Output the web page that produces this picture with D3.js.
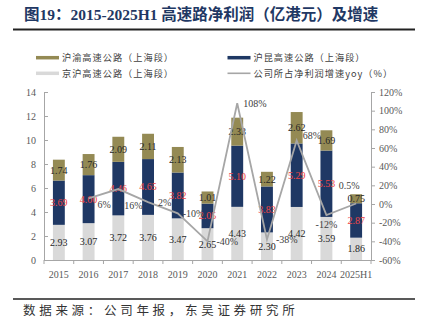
<!DOCTYPE html>
<html>
<head>
<meta charset="utf-8">
<script src="https://cdn.jsdelivr.net/npm/d3@7"></script>
<style>
  body { margin: 0; background: #fff; }
  svg { display: block; }
  .num { font-family: "Liberation Serif", "Times New Roman", serif; }
  .cjk { font-family: "Noto Sans CJK SC", sans-serif; }
</style>
</head>
<body>
<svg id="chart" width="421" height="334"></svg>
<script>
// Highway net profit by segment (HKD 100m) and company share yoy growth

const years = ['2015', '2016', '2017', '2018', '2019', '2020', '2021', '2022', '2023', '2024', '2025H1'];
const jinghu = [2.93, 3.07, 3.72, 3.76, 3.47, 2.65, 4.43, 2.30, 4.42, 3.59, 1.86];
const hukun = [3.69, 4.00, 4.46, 4.65, 3.82, 2.05, 5.10, 3.83, 5.29, 5.53, 2.87];
const huyu = [1.74, 1.76, 2.09, 2.11, 2.13, 1.01, 2.33, 1.22, 2.62, 1.69, 0.75];
const yoy = [null, 6, 16, 2, -10, -40, 108, -38, 68, -12, 0.5];
const yoyLabels = ['', '6%', '16%', '2%', '-10%', '-40%', '108%', '-38%', '68%', '-12%', '0.5%'];

const leftTicks = [0, 2, 4, 6, 8, 10, 12, 14];
const rightTicks = [-60, -40, -20, 0, 20, 40, 60, 80, 100, 120];

const seriesNames = ['沪渝高速公路（上海段）', '沪昆高速公路（上海段）', '京沪高速公路（上海段）', '公司所占净利润增速yoy（%）'];

const COLORS = { huyu: '#948a54', hukun: '#1f3864', jinghu: '#d9d9d9', line: '#a6a6a6' };
const PLOT = { left: 44, right: 371, top: 92, bottom: 260 };

const svg = d3.select('#chart');

// Title and rules
svg.append('text')
  .attr('x', 24).attr('y', 20)
  .attr('font-size', 15.5).attr('font-weight', 'bold')
  .attr('fill', '#1f3864')
  .attr('font-family', '"Liberation Serif", "Noto Sans CJK SC", serif')
  .text('图19：2015-2025H1 高速路净利润（亿港元）及增速');

svg.append('line')
  .attr('x1', 13).attr('x2', 415).attr('y1', 29.5).attr('y2', 29.5)
  .attr('stroke', '#222').attr('stroke-width', 2);

svg.append('line')
  .attr('x1', 13).attr('x2', 415).attr('y1', 299).attr('y2', 299)
  .attr('stroke', '#222').attr('stroke-width', 1.5);

svg.append('text')
  .attr('class', 'cjk')
  .attr('x', 23).attr('y', 314.5)
  .attr('font-size', 12.5).attr('letter-spacing', 3.7)
  .attr('fill', '#333')
  .text('数据来源：公司年报，东吴证券研究所');

// Legend
const legend = [
  { name: seriesNames[0], color: COLORS.huyu, x: 36, y: 57.7, h: 3.5 },
  { name: seriesNames[1], color: COLORS.hukun, x: 227.5, y: 57.7, h: 3.5 },
  { name: seriesNames[2], color: COLORS.jinghu, x: 36, y: 73.3, h: 3.5 },
  { name: seriesNames[3], color: COLORS.line, x: 227.5, y: 73.3, h: 1.6 }
];
const lg = svg.append('g');
legend.forEach(d => {
  lg.append('rect')
    .attr('x', d.x).attr('y', d.y - d.h / 2)
    .attr('width', 23).attr('height', d.h)
    .attr('fill', d.color);
  lg.append('text')
    .attr('class', 'cjk')
    .attr('x', d.x + 26).attr('y', d.y)
    .attr('dy', '0.35em')
    .attr('font-size', 9.2).attr('letter-spacing', 1)
    .attr('fill', '#404040')
    .text(d.name);
});

// Scales
const x = d3.scaleBand().domain(years).range([PLOT.left, PLOT.right]).paddingInner(0.6).paddingOuter(0.3);
const yL = d3.scaleLinear().domain([0, 14]).range([PLOT.bottom, PLOT.top]);
const yR = d3.scaleLinear().domain([-60, 120]).range([PLOT.bottom, PLOT.top]);

// Stacked bars
const rows = years.map((yr, i) => ({ year: yr, jinghu: jinghu[i], hukun: hukun[i], huyu: huyu[i] }));
const stack = d3.stack().keys(['jinghu', 'hukun', 'huyu'])(rows);

const barsG = svg.append('g');
stack.forEach(layer => {
  barsG.selectAll(null)
    .data(layer)
    .join('rect')
    .attr('x', d => x(d.data.year))
    .attr('y', d => yL(d[1]))
    .attr('width', x.bandwidth())
    .attr('height', d => yL(d[0]) - yL(d[1]))
    .attr('fill', COLORS[layer.key]);
});

// Axes
const axisColor = '#a6a6a6';
const tickColor = '#595959';

const xAxisG = svg.append('g')
  .attr('transform', `translate(0,${PLOT.bottom})`)
  .call(d3.axisBottom(x).tickSize(0).tickPadding(11));
// tick marks between categories
xAxisG.selectAll('line.sep')
  .data(d3.range(years.length + 1))
  .join('line')
  .attr('class', 'sep')
  .attr('x1', i => PLOT.left + i * (PLOT.right - PLOT.left) / years.length)
  .attr('x2', i => PLOT.left + i * (PLOT.right - PLOT.left) / years.length)
  .attr('y1', 0).attr('y2', 4)
  .attr('stroke', axisColor);

const yAxisG = svg.append('g')
  .attr('transform', `translate(${PLOT.left},0)`)
  .call(d3.axisLeft(yL).tickValues(leftTicks).tickSizeInner(-4).tickSizeOuter(0).tickPadding(8));

const rAxisG = svg.append('g')
  .attr('transform', `translate(${PLOT.right},0)`)
  .call(d3.axisRight(yR).tickValues(rightTicks).tickFormat(d => d + '%').tickSizeInner(4).tickSizeOuter(0).tickPadding(4));

[xAxisG, yAxisG, rAxisG].forEach(g => {
  g.select('.domain').attr('stroke', axisColor);
  g.selectAll('.tick line').attr('stroke', axisColor);
  g.selectAll('.tick text')
    .attr('class', 'num')
    .attr('font-size', 10)
    .attr('fill', tickColor);
});

// Segment value labels
const labelsG = svg.append('g').attr('class', 'num').attr('font-size', 10).attr('text-anchor', 'middle');
stack.forEach(layer => {
  labelsG.selectAll(null)
    .data(layer)
    .join('text')
    .attr('x', d => x(d.data.year) + x.bandwidth() / 2)
    .attr('y', d => (yL(d[0]) + yL(d[1])) / 2)
    .attr('dy', '0.35em')
    .attr('fill', layer.key === 'hukun' ? '#f04646' : '#262626')
    .text(d => d.data[layer.key].toFixed(2));
});

// Growth line (right axis)
const cx = yr => x(yr) + x.bandwidth() / 2;
const line = d3.line()
  .defined(d => d.v != null)
  .x(d => cx(d.year))
  .y(d => yR(d.v));
const linePts = years.map((yr, i) => ({ year: yr, v: yoy[i], label: yoyLabels[i] }));

svg.append('path')
  .datum(linePts)
  .attr('d', line)
  .attr('fill', 'none')
  .attr('stroke', COLORS.line)
  .attr('stroke-width', 1.8);

// label placement tweaks, by index
const place = {
  1: { dx: 9, dy: 6 },
  2: { dx: 6, dy: 16 },
  3: { dx: 10, dy: 0 },
  4: { dx: 5, dy: 0 },
  5: { dx: 9, dy: 0 },
  7: { dx: 9, dy: 0 },
  8: { dx: 6, dy: -5 },
  9: { dx: 0, dy: 9, anchor: 'middle' },
  10: { dx: -7, dy: -18, anchor: 'middle' }
};
svg.append('g')
  .attr('class', 'num')
  .attr('font-size', 10)
  .selectAll('text')
  .data(linePts.filter(d => d.v != null))
  .join('text')
  .each(function (d) {
    const i = years.indexOf(d.year);
    const p = place[i] || { dx: 6, dy: 0 };
    d3.select(this)
      .attr('x', cx(d.year) + p.dx)
      .attr('y', yR(d.v) + p.dy)
      .attr('dy', '0.35em')
      .attr('text-anchor', p.anchor || 'start');
  })
  .attr('fill', '#404040')
  .text(d => d.label);
</script>
</body>
</html>
